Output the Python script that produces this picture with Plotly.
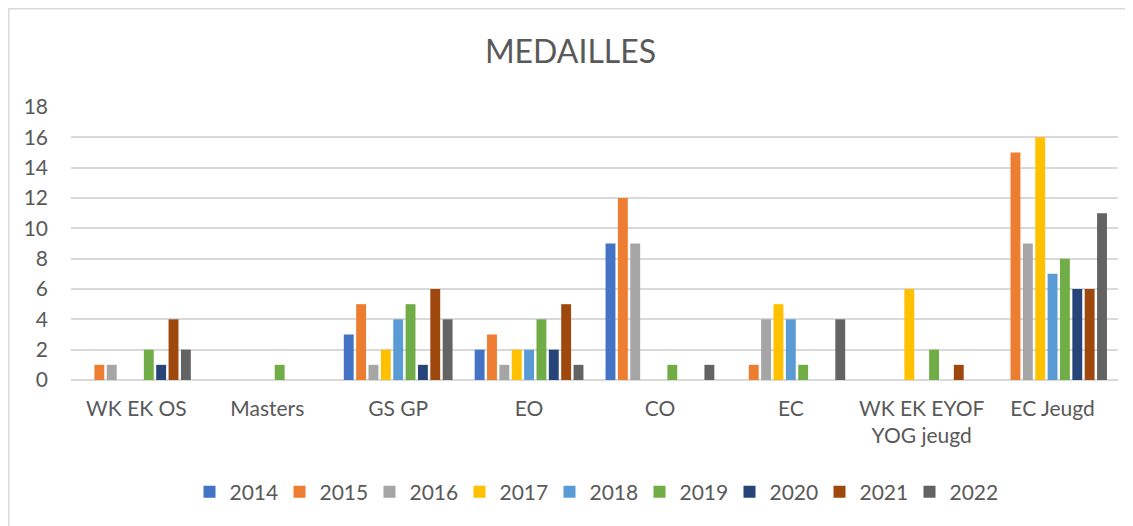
import plotly.graph_objects as go

# medal counts per category, one list per year
categories = ["WK EK OS", "Masters", "GS GP", "EO", "CO", "EC",
              "WK EK EYOF<br>YOG jeugd", "EC Jeugd"]
years = ["2014", "2015", "2016", "2017", "2018", "2019", "2020", "2021", "2022"]

y2014 = [0, 0, 3, 2, 9, 0, 0, 0]
y2015 = [1, 0, 5, 3, 12, 1, 0, 15]
y2016 = [1, 0, 1, 1, 9, 4, 0, 9]
y2017 = [0, 0, 2, 2, 0, 5, 6, 16]
y2018 = [0, 0, 4, 2, 0, 4, 0, 7]
y2019 = [2, 1, 5, 4, 1, 1, 2, 8]
y2020 = [1, 0, 1, 2, 0, 0, 0, 6]
y2021 = [4, 0, 6, 5, 0, 0, 1, 6]
y2022 = [2, 0, 4, 1, 1, 4, 0, 11]

series = [y2014, y2015, y2016, y2017, y2018, y2019, y2020, y2021, y2022]
colors = ["#4472C4", "#ED7D31", "#A5A5A5", "#FFC000", "#5B9BD5",
          "#70AD47", "#264478", "#9E480E", "#636363"]

FONT = "Lato, 'Open Sans', sans-serif"
TEXT = "#595959"
GRID = "#D9D9D9"

# the page adds an 8px body margin, so the figure is drawn 8px smaller
W, H = 1125, 518
L, R, T, B = 63, 15, 99, 146
PW, PH = W - L - R, H - T - B

fig = go.Figure()
for year, vals, col in zip(years, series, colors):
    fig.add_trace(go.Bar(name=year, x=categories, y=vals,
                         marker=dict(color=col, line=dict(width=0))))

fig.update_layout(
    width=W, height=H,
    barmode="group", bargap=0.15, bargroupgap=0.2,
    paper_bgcolor="white", plot_bgcolor="white",
    margin=dict(l=L, r=R, t=T, b=B),
    font=dict(family=FONT, color=TEXT, size=21),
    title=dict(text="MEDAILLES", x=0.5, xanchor="center",
               y=1 - 44 / H, yanchor="middle",
               font=dict(size=32, color=TEXT, family=FONT)),
    legend=dict(orientation="h", x=0.5, xanchor="center",
                y=-(484 - (T + PH)) / PH, yanchor="middle", itemwidth=30,
                entrywidth=45, entrywidthmode="pixels",
                font=dict(size=21, color=TEXT), traceorder="normal"),
    showlegend=True,
)
fig.update_yaxes(range=[0, 18], dtick=2, showgrid=True, gridcolor=GRID,
                 gridwidth=1.5, zeroline=True, zerolinecolor=GRID,
                 zerolinewidth=1.5, showline=False, ticks="",
                 ticklabelstandoff=22, tickfont=dict(size=21, color=TEXT))
fig.update_xaxes(showgrid=False, showline=False, ticks="",
                 ticklabelstandoff=14, tickfont=dict(size=21, color=TEXT))

# outer chart frame
fig.add_shape(type="rect", xref="paper", yref="paper",
              x0=(0.75 - L) / PW, x1=1.05, y0=-0.6, y1=(T + PH - 0.75) / PH,
              line=dict(color=GRID, width=1.5), fillcolor="rgba(0,0,0,0)",
              layer="below")

fig.write_html("out.html")
